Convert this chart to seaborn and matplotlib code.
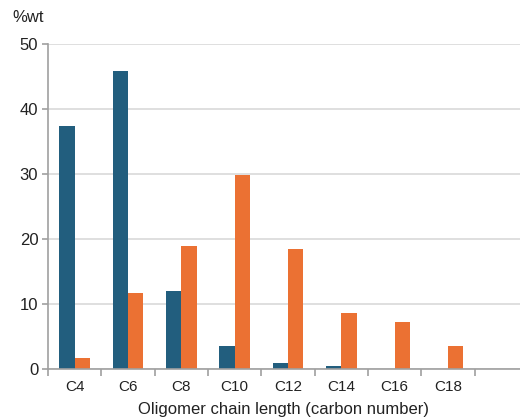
import pandas as pd
import matplotlib.pyplot as plt
import seaborn as sns

# values (%wt)
chain = ['C4', 'C6', 'C8', 'C10', 'C12', 'C14', 'C16', 'C18']
series_a = [37.4, 45.8, 12.0, 3.5, 1.0, 0.4, 0.0, 0.0]
series_b = [1.75, 11.7, 19.0, 29.8, 18.4, 8.55, 7.2, 3.5]
y_ticks = [0, 10, 20, 30, 40, 50]

df = pd.DataFrame({
    'chain': chain * 2,
    'wt': series_a + series_b,
    'series': ['A'] * len(chain) + ['B'] * len(chain),
})

sns.set_style('white')
plt.rcParams['font.family'] = ['Liberation Sans', 'DejaVu Sans']

fig = plt.figure(figsize=(5.2, 4.19), dpi=100)
ax = fig.add_axes([0.0923, 0.1193, 0.9077, 0.7757])

sns.barplot(data=df, x='chain', y='wt', hue='series', order=chain,
            palette=['#225E7E', '#EB7133'], width=0.57, dodge=True,
            legend=False, ax=ax, saturation=1, edgecolor='none')

ax.set_xlim(-0.5, 8.35)
ax.set_ylim(0, 50)
ax.set_yticks(y_ticks)
ax.yaxis.grid(True, color='#d9d9d9', linewidth=1.2)
ax.set_axisbelow(True)

for s in ['top', 'right']:
    ax.spines[s].set_visible(False)
for s in ['left', 'bottom']:
    ax.spines[s].set_color('#a0a0a0')
    ax.spines[s].set_linewidth(1.2)

ax.tick_params(axis='y', left=True, length=4, width=1.2, color='#a0a0a0',
               labelsize=12, pad=3, labelcolor='#222222')
ax.tick_params(axis='x', which='major', bottom=False, length=0, labelsize=11,
               pad=8, labelcolor='#222222')
# tick marks sit between the categories
ax.set_xticks([i + 0.5 for i in range(-1, 8)], minor=True)
ax.tick_params(axis='x', which='minor', bottom=True, length=5, width=1.2,
               color='#a0a0a0', direction='out')

ax.set_xlabel('Oligomer chain length (carbon number)', fontsize=12, labelpad=6,
              color='#222222')
ax.set_ylabel('')
fig.text(0.023, 0.958, '%wt', fontsize=12, ha='left', va='center', color='#222222')

fig.savefig('out.png', dpi=100)
